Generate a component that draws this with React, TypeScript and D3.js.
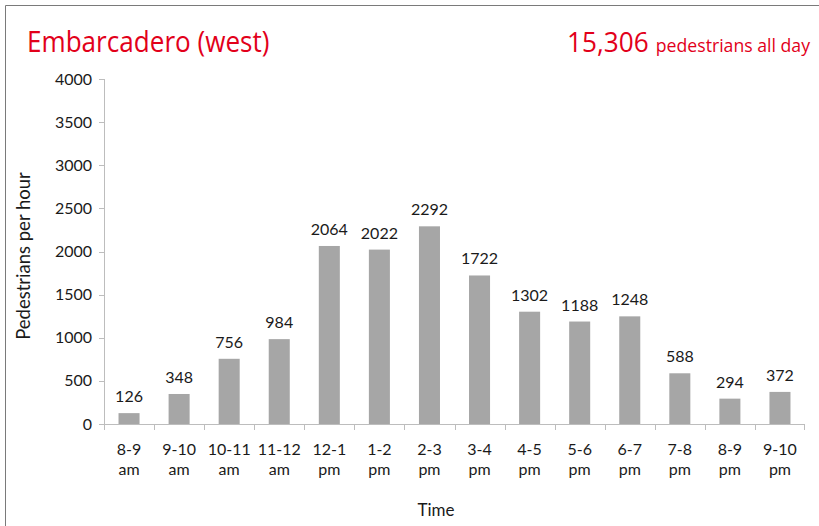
import React from "react";
import * as d3 from "d3";

const categories = ["8-9|am","9-10|am","10-11|am","11-12|am","12-1|pm","1-2|pm","2-3|pm","3-4|pm","4-5|pm","5-6|pm","6-7|pm","7-8|pm","8-9|pm","9-10|pm"];
const values = [126,348,756,984,2064,2022,2292,1722,1302,1188,1248,588,294,372];
const yTicks = [0,500,1000,1500,2000,2500,3000,3500,4000];
const title = "Embarcadero (west)";
const totalText = "15,306";
const totalSuffix = "pedestrians all day";

export default function App() {
  const W = 819, H = 526;
  const left = 104, right = 805, top = 79, bottom = 424;
  const x = d3.scaleBand<string>().domain(categories).range([left, right]).paddingInner(0.58).paddingOuter(0.29);
  const xb = d3.scaleBand<string>().domain(categories).range([left, right]);
  const y = d3.scaleLinear().domain([0, 4000]).range([bottom, top]);
  const font = "Lato, 'Open Sans', sans-serif";
  const tfont = "'Open Sans', 'Noto Sans', sans-serif";
  const red = "#e2001a";
  const axisColor = "#bdbdbd";
  const txt = "#1a1a1a";
  return (
    <svg width={W} height={H} style={{ position: "absolute", left: 0, top: 0, background: "#fff" }}>
      <line x1={5.5} y1={5.5} x2={W} y2={5.5} stroke="#7a7a7a" strokeWidth={1} />
      <line x1={5.5} y1={5.5} x2={5.5} y2={H} stroke="#7a7a7a" strokeWidth={1} />
      <text transform="translate(27,52) scale(0.9,1)" fill={red} fontFamily={tfont} fontSize={29}>{title}</text>
      <text transform="translate(567,52) scale(0.97,1)" fill={red} fontFamily={tfont} fontSize={27}>{totalText}</text>
      <text transform="translate(810,52) scale(0.93,1)" textAnchor="end" fill={red} fontFamily={tfont} fontSize={19}>{totalSuffix}</text>
      {/* y axis */}
      <line x1={left + 0.5} y1={top} x2={left + 0.5} y2={bottom} stroke={axisColor} />
      {yTicks.map(t => (
        <g key={t}>
          <line x1={left - 5} x2={left} y1={Math.round(y(t)) + 0.5} y2={Math.round(y(t)) + 0.5} stroke={axisColor} />
          <text x={left - 12} y={y(t) + 5.5} textAnchor="end" fontFamily={font} fontSize={16} fill={txt}>{t}</text>
        </g>
      ))}
      {/* x axis */}
      <line x1={left} y1={bottom + 0.5} x2={right} y2={bottom + 0.5} stroke={axisColor} />
      {categories.map((c, i) => (
        <line key={"t" + i} x1={Math.round(xb(c)!) + 0.5} x2={Math.round(xb(c)!) + 0.5} y1={bottom} y2={bottom + 6} stroke={axisColor} />
      ))}
      <line x1={right - 0.5} x2={right - 0.5} y1={bottom} y2={bottom + 6} stroke={axisColor} />
      {categories.map((c, i) => {
        const [a, b] = c.split("|");
        const cx = xb(c)! + xb.bandwidth() / 2;
        return (
          <text key={"l" + i} x={cx} textAnchor="middle" fontFamily={font} fontSize={16} fill={txt}>
            <tspan x={cx} y={455}>{a}</tspan>
            <tspan x={cx} y={475}>{b}</tspan>
          </text>
        );
      })}
      {/* bars */}
      {categories.map((c, i) => (
        <g key={"b" + i}>
          <rect x={x(c)} y={y(values[i])} width={x.bandwidth()} height={bottom - y(values[i])} fill="#a6a6a6" />
          <text x={x(c)! + x.bandwidth() / 2} y={y(values[i]) - 11} textAnchor="middle" fontFamily={font} fontSize={16} fill={txt}>{values[i]}</text>
        </g>
      ))}
      <text x={436} y={516} textAnchor="middle" fontFamily={font} fontSize={17} fill={txt}>Time</text>
      <text transform={`translate(30, 256) rotate(-90)`} textAnchor="middle" fontFamily={font} fontSize={18.5} fill={txt}>Pedestrians per hour</text>
    </svg>
  );
}
